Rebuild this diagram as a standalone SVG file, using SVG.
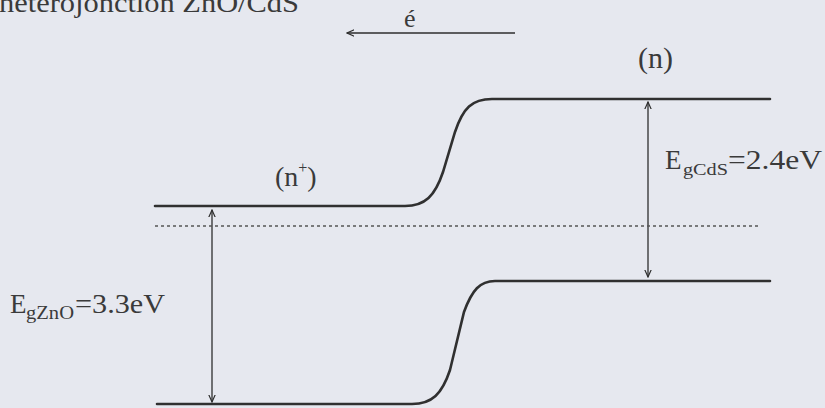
<svg xmlns="http://www.w3.org/2000/svg" width="825" height="408" viewBox="0 0 825 408">
<style>
text{font-family:"Liberation Serif","Times New Roman",serif;fill:#3a3a3a}
.band{fill:none;stroke:#303030;stroke-width:2.6;stroke-linecap:round}
.arr{fill:none;stroke:#2e2e2e;stroke-width:1.3}
.dot{fill:none;stroke:#555;stroke-width:1.3;stroke-dasharray:3 3}
</style>
<defs>
<marker id="ah" viewBox="0 0 10 10" refX="9" refY="5" markerWidth="8" markerHeight="8" orient="auto-start-reverse" markerUnits="userSpaceOnUse">
<path d="M0,1 L9,5 L0,9" fill="none" stroke="#2e2e2e" stroke-width="1.5"/>
</marker>
</defs>
<rect width="825" height="408" fill="#e6e8ef"/>
<text id="title" x="-1" y="12" font-size="28" textLength="300" lengthAdjust="spacingAndGlyphs">heterojonction ZnO/CdS</text>
<g id="connectors">
<line class="arr" x1="515" y1="33" x2="347" y2="33" marker-end="url(#ah)"/>
<line class="arr" x1="648" y1="102" x2="648" y2="277" marker-start="url(#ah)" marker-end="url(#ah)"/>
<line class="arr" x1="212" y1="210" x2="212" y2="402" marker-start="url(#ah)" marker-end="url(#ah)"/>
</g>
<g id="bands">
<path class="band" d="M155 206 H405 C425 206 435 196 443 172 L455 132 C463 108 472 99 492 99 H770"/>
<path class="band" d="M157 404 H412 C432 404 442 394 450 370 L464 312 C472 290 480 281 495 281 H770"/>
<line class="dot" x1="155" y1="226" x2="760" y2="226"/>
</g>
<g id="labels">
<text x="404" y="27" font-size="26">é</text>
<text x="638" y="68" font-size="29" textLength="35" lengthAdjust="spacingAndGlyphs">(n)</text>
<text x="275" y="186" font-size="28">(n<tspan dy="-13" font-size="16">+</tspan><tspan dy="13">)</tspan></text>
<text x="665" y="169" font-size="27">E<tspan x="683" y="175" font-size="17" textLength="45" lengthAdjust="spacingAndGlyphs">gCdS</tspan><tspan x="728" y="169" textLength="94" lengthAdjust="spacingAndGlyphs">=2.4eV</tspan></text>
<text x="10" y="313" font-size="27">E<tspan x="26" y="319" font-size="18" textLength="48" lengthAdjust="spacingAndGlyphs">gZnO</tspan><tspan x="75" y="313" textLength="90" lengthAdjust="spacingAndGlyphs">=3.3eV</tspan></text>
</g>
</svg>
